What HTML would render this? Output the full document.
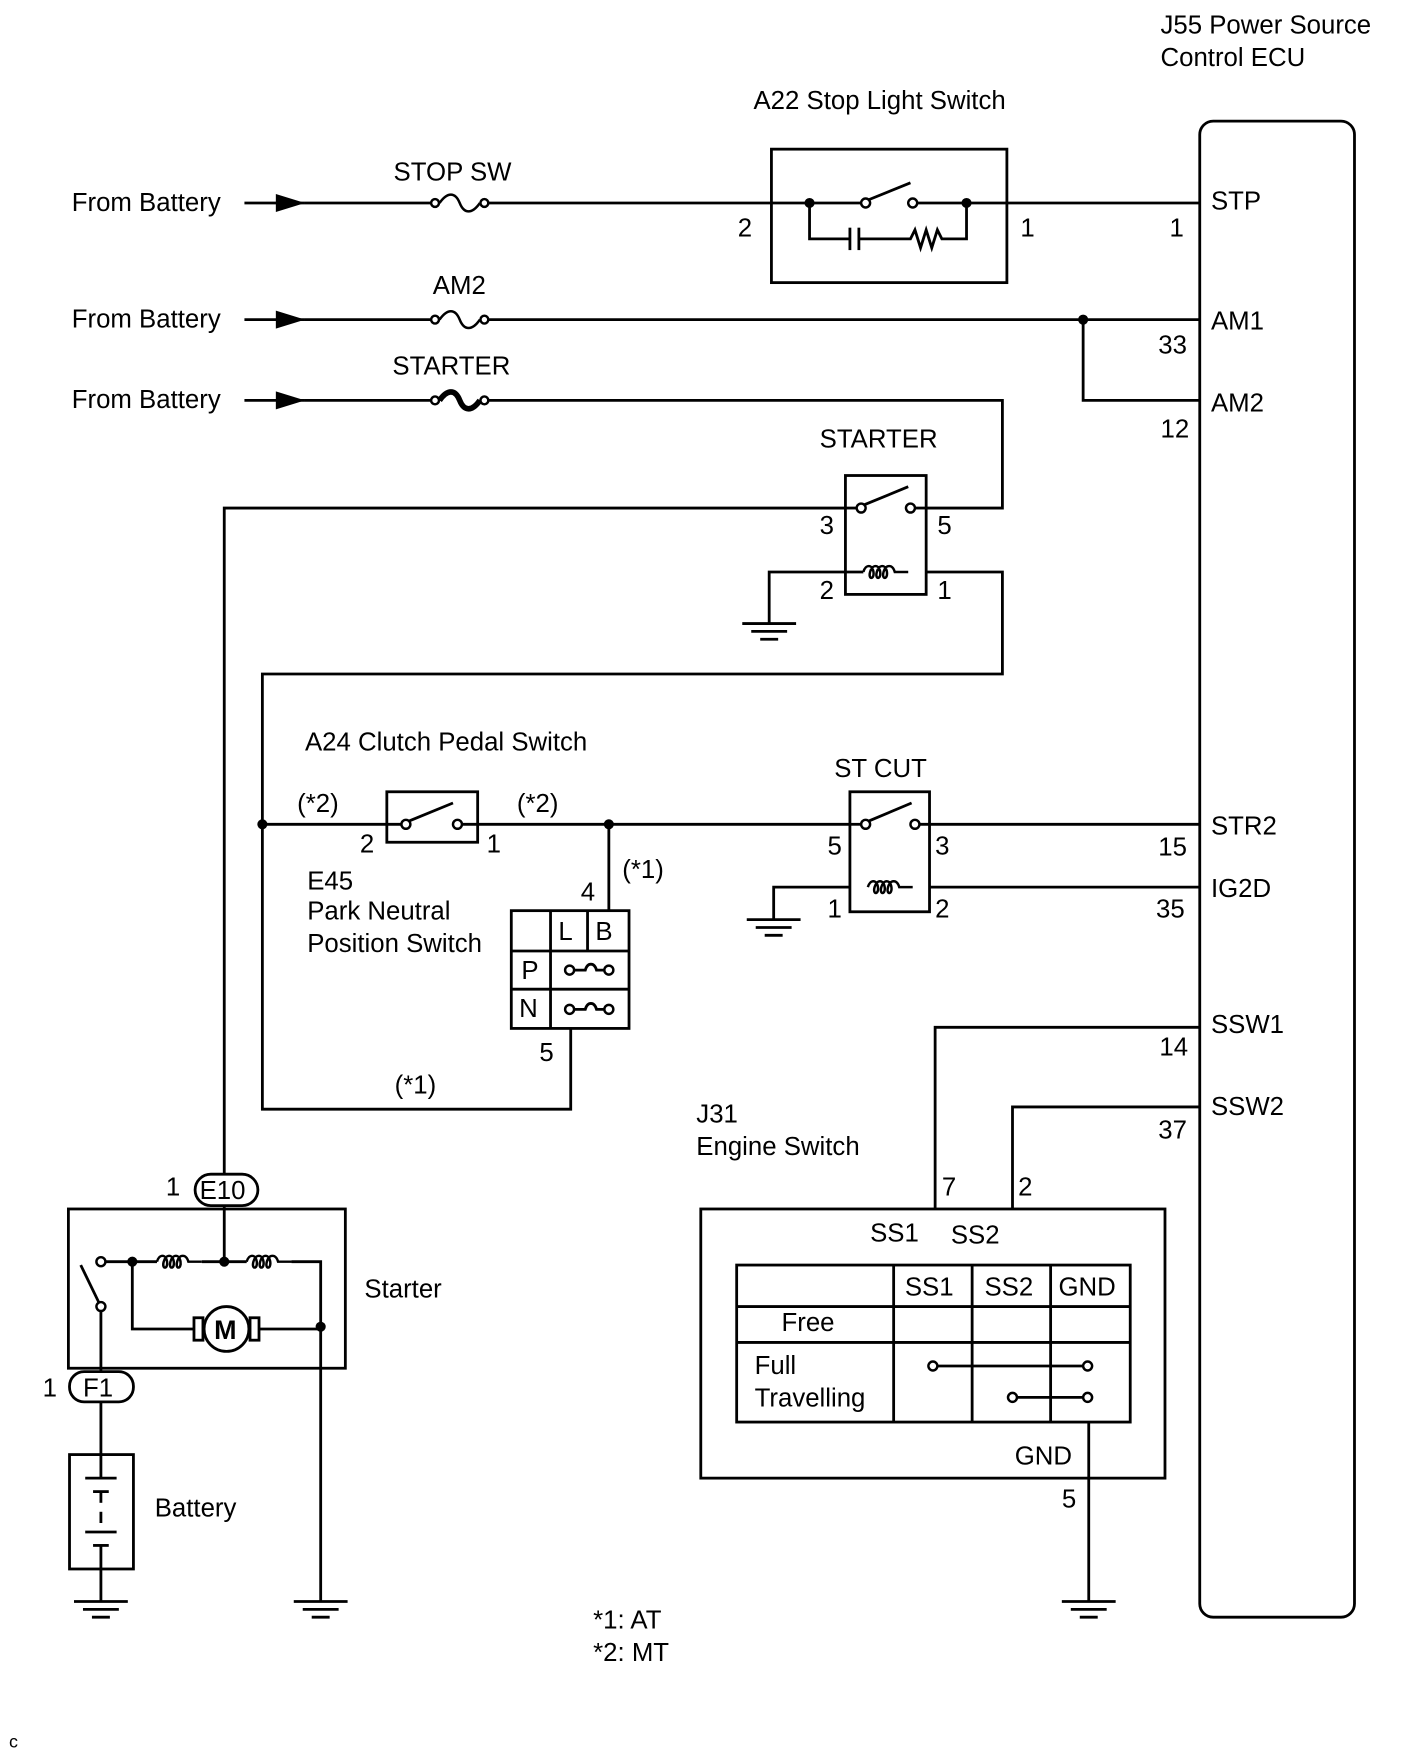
<!DOCTYPE html>
<html><head><style>body{margin:0;background:#fff}svg{display:block}text{font-family:"Liberation Sans",sans-serif;font-size:23px;fill:#000}</style></head><body>
<svg width="1424" height="1763" viewBox="0 0 1270 1572" preserveAspectRatio="none" xmlns="http://www.w3.org/2000/svg">
<defs>
<g id="gnd" stroke="#000" stroke-width="2.5"><line x1="-24" y1="0" x2="24" y2="0"/><line x1="-16" y1="7" x2="16" y2="7"/><line x1="-8" y1="14" x2="8" y2="14"/></g>
<g id="coil" fill="none" stroke="#000" stroke-width="2.2"><path d="M0 0 C2 -7 8 -7 9 0 C10 7 4 7 6 0 C8 -7 14 -7 15 0 C16 7 10 7 12 0 C14 -7 20 -7 21 0 C22 7 16 7 18 0 C20 -7 26 -7 28 0 L40 0"/></g>
<g id="arr"><line x1="-54" y1="0" x2="0" y2="0" stroke="#000" stroke-width="2.5"/><polygon points="-26,-8 0,0 -26,8" fill="#000"/></g>
<g id="fuse" fill="none" stroke="#000" stroke-width="2.2"><circle cx="4" cy="0" r="3.5" fill="#fff"/><circle cx="48" cy="0" r="3.5" fill="#fff"/><path d="M8 0 C15 -10 22 -10 26 0 C30 10 37 10 44 0"/></g>
</defs>
<g fill="none" stroke="#000" stroke-width="2.5">
<rect x="1070" y="108" width="138" height="1334" rx="12"/>
<line x1="272" y1="181" x2="384" y2="181"/><line x1="436" y1="181" x2="722" y2="181"/>
<rect x="688" y="133" width="210" height="119"/>
<line x1="722" y1="181" x2="768" y2="181"/><line x1="775" y1="178" x2="812" y2="163"/><line x1="818" y1="181" x2="1070" y2="181"/>
<polyline points="722,181 722,213 758,213"/><line x1="758" y1="203" x2="758" y2="223"/><line x1="766" y1="203" x2="766" y2="223"/>
<polyline points="766,213 812,213 816,205 821,221 826,205 831,221 836,205 840,213 862,213 862,181"/>
<line x1="272" y1="285" x2="384" y2="285"/><line x1="436" y1="285" x2="1070" y2="285"/>
<polyline points="966,285 966,357 1070,357"/>
<line x1="272" y1="357" x2="384" y2="357"/><polyline points="436,357 894,357 894,453 826,453"/>
<rect x="754" y="424" width="72" height="106"/>
<line x1="754" y1="453" x2="765" y2="453"/><line x1="771" y1="450" x2="810" y2="434"/><line x1="816" y1="453" x2="826" y2="453"/>
<polyline points="754,453 200,453 200,1047"/>
<line x1="754" y1="510" x2="770" y2="510"/>
<polyline points="754,510 686,510 686,556"/>
<polyline points="826,510 894,510 894,601 234,601 234,989 509,989 509,917"/>
<line x1="234" y1="735" x2="345" y2="735"/>
<rect x="345" y="706" width="81" height="45"/>
<line x1="345" y1="735" x2="359" y2="735"/><line x1="365" y1="732" x2="404" y2="716"/><line x1="411" y1="735" x2="426" y2="735"/>
<line x1="426" y1="735" x2="758" y2="735"/>
<line x1="543" y1="735" x2="543" y2="812"/>
<rect x="758" y="706" width="71" height="107"/>
<line x1="758" y1="735" x2="769" y2="735"/><line x1="775" y1="732" x2="813" y2="716"/><line x1="819" y1="735" x2="1070" y2="735"/>
<polyline points="758,791 690,791 690,820"/><line x1="829" y1="791" x2="1070" y2="791"/>
<rect x="456" y="812" width="105" height="105"/>
<line x1="491" y1="812" x2="491" y2="917"/><line x1="524" y1="812" x2="524" y2="848"/>
<line x1="456" y1="848" x2="561" y2="848"/><line x1="456" y1="882" x2="561" y2="882"/>
<path d="M512 865 L522 865 C524 858 530 858 532 865 L539 865"/><path d="M512 900 L522 900 C524 893 530 893 532 900 L539 900"/>
<polyline points="1070,916 834,916 834,1078"/><polyline points="1070,987 903,987 903,1078"/>
<rect x="625" y="1078" width="414" height="240"/>
<rect x="657" y="1128" width="351" height="140"/>
<line x1="797" y1="1128" x2="797" y2="1268"/><line x1="867" y1="1128" x2="867" y2="1268"/><line x1="937" y1="1128" x2="937" y2="1268"/>
<line x1="657" y1="1165" x2="1008" y2="1165"/><line x1="657" y1="1197" x2="1008" y2="1197"/>
<line x1="836" y1="1218" x2="966" y2="1218"/><line x1="907" y1="1246" x2="966" y2="1246"/>
<line x1="971" y1="1268" x2="971" y2="1428"/>
<rect x="174" y="1047" width="56" height="28" rx="14"/>
<rect x="61" y="1078" width="247" height="142"/>
<line x1="200" y1="1075" x2="200" y2="1125"/>
<line x1="94" y1="1125" x2="140" y2="1125"/><line x1="180" y1="1125" x2="220" y2="1125"/>
<polyline points="260,1125 286,1125 286,1428"/>
<line x1="72" y1="1128" x2="88" y2="1161"/><line x1="90" y1="1169" x2="90" y2="1223"/>
<polyline points="118,1125 118,1185 173,1185"/><line x1="231" y1="1185" x2="286" y2="1185"/>
<rect x="173" y="1175" width="8" height="20"/><rect x="223" y="1175" width="8" height="20"/>
<circle cx="202" cy="1185" r="20" fill="#fff"/>
<rect x="62" y="1223" width="57" height="27" rx="13"/>
<line x1="90" y1="1250" x2="90" y2="1297"/>
<rect x="62" y="1297" width="57" height="102"/>
<line x1="90" y1="1297" x2="90" y2="1318"/><line x1="76" y1="1318" x2="104" y2="1318"/><line x1="83" y1="1330" x2="97" y2="1330"/>
<line x1="90" y1="1330" x2="90" y2="1340"/><line x1="90" y1="1348" x2="90" y2="1358"/>
<line x1="76" y1="1366" x2="104" y2="1366"/><line x1="83" y1="1378" x2="97" y2="1378"/><line x1="90" y1="1378" x2="90" y2="1399"/>
<line x1="90" y1="1399" x2="90" y2="1428"/>
</g>
<g stroke-width="2.2" stroke="#000" fill="#fff">
<circle cx="772" cy="181" r="4"/><circle cx="814" cy="181" r="4"/>
<circle cx="768" cy="453" r="4"/><circle cx="812" cy="453" r="4"/>
<circle cx="362" cy="735" r="4"/><circle cx="408" cy="735" r="4"/>
<circle cx="772" cy="735" r="4"/><circle cx="816" cy="735" r="4"/>
<circle cx="508" cy="865" r="4"/><circle cx="543" cy="865" r="4"/><circle cx="508" cy="900" r="4"/><circle cx="543" cy="900" r="4"/>
<circle cx="832" cy="1218" r="4"/><circle cx="970" cy="1218" r="4"/><circle cx="903" cy="1246" r="4"/><circle cx="970" cy="1246" r="4"/>
<circle cx="90" cy="1125" r="4"/><circle cx="90" cy="1165" r="4"/>
</g>
<g fill="#000">
<circle cx="722" cy="181" r="4.5"/><circle cx="862" cy="181" r="4.5"/><circle cx="966" cy="285" r="4.5"/>
<circle cx="234" cy="735" r="4.5"/><circle cx="543" cy="735" r="4.5"/>
<circle cx="118" cy="1125" r="4.5"/><circle cx="200" cy="1125" r="4.5"/><circle cx="286" cy="1183" r="4.5"/>
</g>
<use href="#arr" x="272" y="181"/><use href="#arr" x="272" y="285"/><use href="#arr" x="272" y="357"/>
<use href="#fuse" x="384" y="181"/><use href="#fuse" x="384" y="285"/><use href="#fuse" x="384" y="357"/>
<path d="M392 357 C399 347 406 347 410 357 C414 367 421 367 428 357" fill="none" stroke="#000" stroke-width="5"/>
<use href="#coil" x="770" y="510"/><use href="#coil" x="774" y="791"/>
<use href="#coil" x="140" y="1125"/><use href="#coil" x="220" y="1125"/>
<use href="#gnd" x="686" y="556"/><use href="#gnd" x="690" y="820"/>
<use href="#gnd" x="90" y="1428"/><use href="#gnd" x="286" y="1428"/><use href="#gnd" x="971" y="1428"/>
<text x="1035" y="30">J55 Power Source</text><text x="1035" y="59">Control ECU</text>
<text x="672" y="97">A22 Stop Light Switch</text>
<text x="64" y="188">From Battery</text><text x="64" y="292">From Battery</text><text x="64" y="364">From Battery</text>
<text x="351" y="161">STOP SW</text><text x="386" y="262">AM2</text><text x="350" y="334">STARTER</text>
<text x="658" y="211">2</text><text x="910" y="211">1</text><text x="1043" y="211">1</text><text x="1080" y="187">STP</text>
<text x="1080" y="294">AM1</text><text x="1033" y="315">33</text><text x="1080" y="367">AM2</text><text x="1035" y="390">12</text>
<text x="731" y="399">STARTER</text>
<text x="731" y="476">3</text><text x="836" y="476">5</text><text x="731" y="534">2</text><text x="836" y="534">1</text>
<text x="272" y="669">A24 Clutch Pedal Switch</text>
<text x="265" y="724">(*2)</text><text x="461" y="724">(*2)</text><text x="321" y="760">2</text><text x="434" y="760">1</text>
<text x="555" y="783">(*1)</text><text x="518" y="803">4</text>
<text x="274" y="793">E45</text><text x="274" y="820">Park Neutral</text><text x="274" y="849">Position Switch</text>
<text x="744" y="693">ST CUT</text>
<text x="738" y="762">5</text><text x="834" y="762">3</text><text x="738" y="818">1</text><text x="834" y="818">2</text>
<text x="1080" y="744">STR2</text><text x="1033" y="763">15</text><text x="1080" y="800">IG2D</text><text x="1031" y="818">35</text>
<text x="498" y="838">L</text><text x="531" y="838">B</text><text x="465" y="873">P</text><text x="463" y="907">N</text>
<text x="481" y="946">5</text><text x="352" y="975">(*1)</text>
<text x="1080" y="921">SSW1</text><text x="1034" y="941">14</text><text x="1080" y="994">SSW2</text><text x="1033" y="1015">37</text>
<text x="621" y="1001">J31</text><text x="621" y="1030">Engine Switch</text>
<text x="840" y="1066">7</text><text x="908" y="1066">2</text>
<text x="776" y="1107">SS1</text><text x="848" y="1109">SS2</text>
<text x="807" y="1155">SS1</text><text x="878" y="1155">SS2</text><text x="944" y="1155">GND</text>
<text x="697" y="1187">Free</text><text x="673" y="1225">Full</text><text x="673" y="1254">Travelling</text>
<text x="905" y="1306">GND</text><text x="947" y="1344">5</text>
<text x="148" y="1066">1</text><text x="178" y="1069">E10</text>
<text x="325" y="1157">Starter</text>
<text x="38" y="1245">1</text><text x="74" y="1245">F1</text>
<text x="191" y="1194" style="font-weight:bold;font-size:24px">M</text>
<text x="138" y="1352">Battery</text>
<text x="529" y="1452">*1: AT</text><text x="529" y="1481">*2: MT</text>
<text x="8" y="1558" style="font-size:16px">c</text>
</svg>
</body></html>
